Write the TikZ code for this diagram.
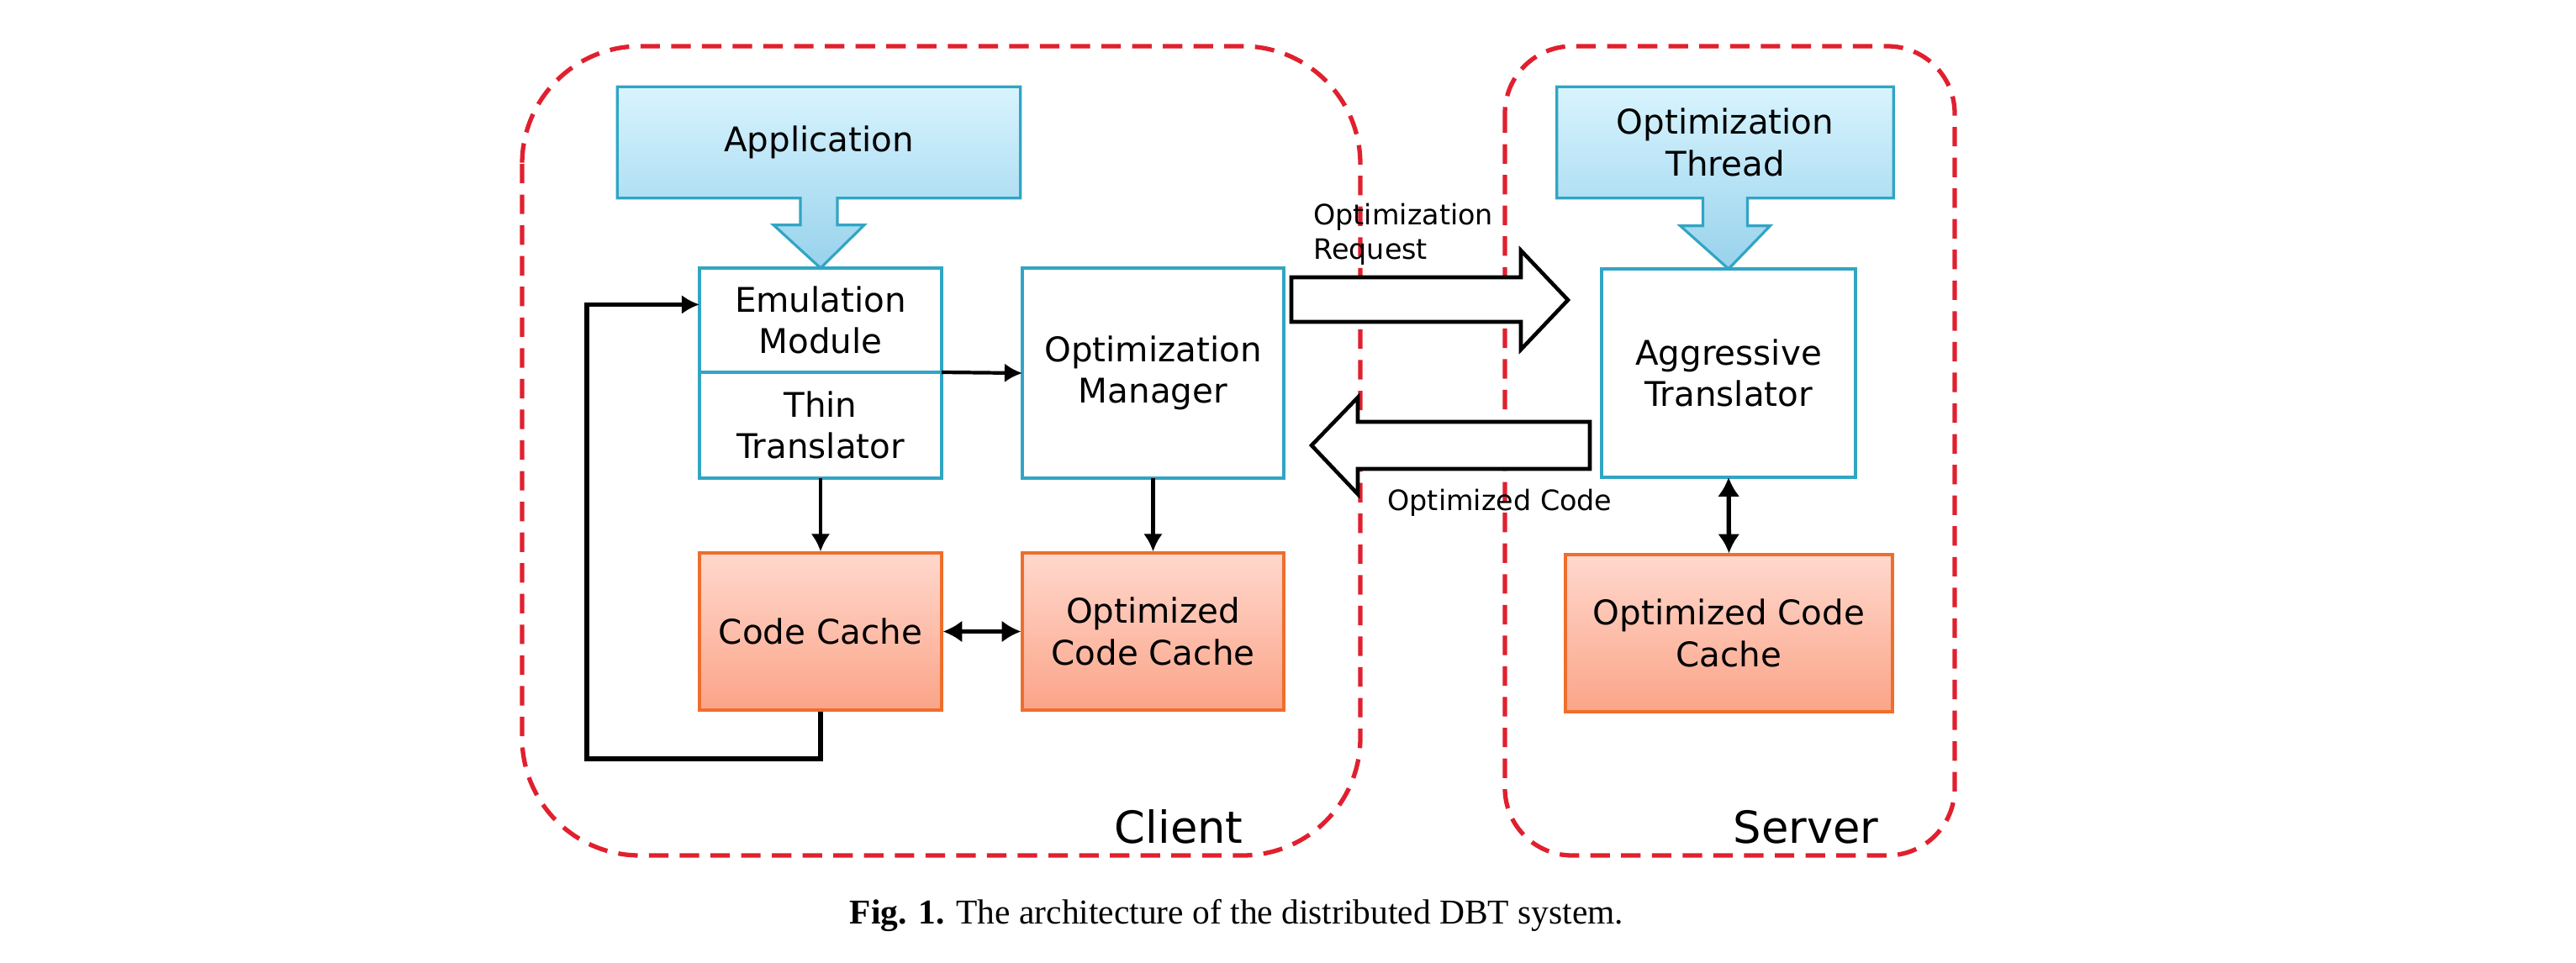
\documentclass[tikz,border=0pt]{standalone}
\usepackage{fontspec}
\setmainfont{DejaVu Sans}
\newfontfamily\captionserif{Liberation Serif}
\usetikzlibrary{positioning,calc,arrows.meta,backgrounds}

\definecolor{zonered}{HTML}{E0202E}
\definecolor{boxblue}{HTML}{31A5C4}
\definecolor{calltop}{HTML}{D8F4FE}
\definecolor{callbot}{HTML}{98D2EC}
\definecolor{cacheedge}{HTML}{EE6E2C}
\definecolor{cachetop}{HTML}{FFD8CD}
\definecolor{cachebot}{HTML}{FBA488}

\begin{document}
\begin{tikzpicture}[
    boxfont/.style={font=\fontsize{11.5}{14}\selectfont},
    module/.style={boxfont, draw=boxblue, line width=1.4pt, fill=white, align=center, inner sep=0pt, outer sep=0pt},
    cache/.style={boxfont, draw=cacheedge, line width=0.9pt, top color=cachetop, bottom color=cachebot, align=center, inner sep=0pt, minimum height=1.87cm},
    callout/.style={draw=boxblue, line width=0.9pt, top color=calltop, bottom color=callbot},
    zone/.style={draw=zonered, line width=1.5pt, dash pattern=on 6.6pt off 3.8pt},
    zonelabel/.style={font=\fontsize{15}{18}\selectfont, anchor=base east},
    link/.style={line width=1.2pt, -{Latex[length=6pt,width=6.5pt]}},
    both/.style={line width=1.5pt, {Latex[length=6.5pt,width=7.5pt]}-{Latex[length=6.5pt,width=7.5pt]}},
    bigarrow/.style={draw=black, line width=1.3pt, fill=white, line join=miter},
    note/.style={font=\fontsize{9.5}{11.6}\selectfont, align=left},
]
\useasboundingbox (0,0) rectangle (30.64,-11.46);

% Client and Server regions
\draw[zone, rounded corners=1.4cm] (6.21,-0.55) rectangle (16.18,-10.18);
\draw[zone, rounded corners=0.8cm] (17.90,-0.55) rectangle (23.25,-10.18);
\node[zonelabel] (client) at (14.91,-10.03) {Client};
\node[zonelabel] (server) at (22.47,-10.03) {Server};

% Client side
\node[boxfont, minimum width=4.78cm, minimum height=1.31cm] (app) at (9.74,-1.695) {Application};
\node[module, minimum width=2.88cm, minimum height=1.24cm] (emu) at (9.76,-3.81) {Emulation\\Module};
\node[module, minimum width=2.88cm, minimum height=1.26cm, below=0pt of emu] (thin) {Thin\\Translator};
\node[module, minimum width=3.11cm, minimum height=2.5cm] (mgr) at (13.715,-4.44) {Optimization\\Manager};
\node[cache, minimum width=2.88cm] (cc) at (9.76,-7.515) {Code Cache};
\node[cache, minimum width=3.11cm] (occ) at (13.715,-7.515) {Optimized\\Code Cache};

% Server side
\node[boxfont, align=center, minimum width=3.99cm, minimum height=1.31cm] (thread) at (20.52,-1.695) {Optimization\\Thread};
\node[module, minimum width=3.02cm, minimum height=2.48cm] (aggr) at (20.56,-4.44) {Aggressive\\Translator};
\node[cache, minimum width=3.89cm] (socc) at (20.565,-7.535) {Optimized Code\\Cache};

% callouts
\begin{scope}[on background layer]
\draw[callout] (app.north west) -- (app.north east) -- (app.south east)
    -- ($(app.south)+(0.22,0)$) -- ++(0,-0.32) -- ++(0.32,0) -- (emu.north)
    -- ($(app.south)+(-0.54,-0.32)$) -- ++(0.32,0) -- ++(0,0.32) -- (app.south west) -- cycle;
\draw[callout] (thread.north west) -- (thread.north east) -- (thread.south east)
    -- ($(thread.south)+(0.265,0)$) -- ++(0,-0.33) -- ++(0.27,0) -- (aggr.north)
    -- ($(thread.south)+(-0.535,-0.33)$) -- ++(0.27,0) -- ++(0,0.33) -- (thread.south west) -- cycle;
\end{scope}

% connectors
\coordinate (loop) at (6.98,-9.03);
\draw[link, line width=1.5pt] (cc.south) |- (loop) |- ($(emu.north west)!0.35!(emu.south west)$);
\draw[link] (emu.south east) -- (mgr.west);
\draw[link] (thin.south) -- (cc.north);
\draw[link] (mgr.south) -- (occ.north);
\draw[both] (cc.east) -- (occ.west);
\draw[both] (aggr.south) -- (socc.north);

% request and reply
\draw[bigarrow] ($(mgr.east)+(0.09,1.14)$) -- ++(2.73,0) -- ++(0,0.32) -- ++(0.56,-0.59)
    -- ++(-0.56,-0.59) -- ++(0,0.33) -- ++(-2.73,0) -- cycle;
\draw[bigarrow] ($(aggr.west)+(-0.14,-0.58)$) -- ++(-2.76,0) -- ++(0,0.29) -- ++(-0.55,-0.57)
    -- ++(0.55,-0.58) -- ++(0,0.30) -- ++(2.76,0) -- cycle;
\node[note, anchor=west] (reqnote) at (15.50,-2.785) {Optimization\\Request};
\node[note] (codenote) at (17.84,-5.98) {Optimized Code};

\node[font=\captionserif\fontsize{11.8}{14}\selectfont] (caption) at (14.71,-10.89)
    {\textbf{Fig. 1.} The architecture of the distributed DBT system.};
\end{tikzpicture}
\end{document}
